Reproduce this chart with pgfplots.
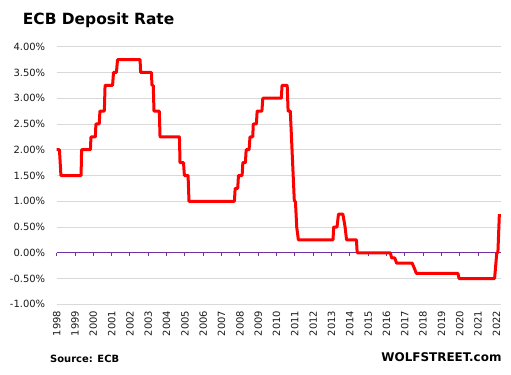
\documentclass[border=0pt]{standalone}
\usepackage{pgfplots}
\pgfplotsset{compat=1.18}
\usepackage{fontspec}
\setmainfont{DejaVu Sans}
\definecolor{zeroaxis}{HTML}{7030A0}
\definecolor{gridgray}{HTML}{D9D9D9}
\definecolor{txt}{HTML}{1A1A1A}
\begin{document}
\begin{tikzpicture}
\useasboundingbox (0,0) rectangle (511bp,375bp);
\begin{axis}[
  at={(56.7bp,70.7bp)}, anchor=south west,
  scale only axis, width=444.3bp, height=257.6bp,
  xmin=1998, xmax=2022.25, ymin=-1, ymax=4,
  axis line style={draw=none},
  major tick length=0pt,
  xtick={1998,1999,...,2022},
  xticklabel={\pgfmathprintnumber[1000 sep={},assume math mode=true,fixed,precision=0]{\tick}},
  ytick={-1,-0.5,0,0.5,1,1.5,2,2.5,3,3.5,4},
  yticklabels={-1.00\%,-0.50\%,0.00\%,0.50\%,1.00\%,1.50\%,2.00\%,2.50\%,3.00\%,3.50\%,4.00\%},
  ymajorgrids, grid style={gridgray, line width=0.8bp},
  xticklabel style={rotate=90, anchor=east, font=\fontsize{10}{12}\selectfont, text=txt},
  yticklabel style={anchor=east, font=\fontsize{10}{12}\selectfont, text=txt},
  xticklabel shift=3bp,
  yticklabel shift=8bp,
  clip=false,
]
\addplot[zeroaxis, line width=1.2bp, no marks] coordinates {(1998,0)(2022.25,0)};
\addplot[zeroaxis, line width=1bp, ycomb, no marks] coordinates {
(1998,-0.065)(1999,-0.065)(2000,-0.065)(2001,-0.065)(2002,-0.065)(2003,-0.065)(2004,-0.065)(2005,-0.065)(2006,-0.065)(2007,-0.065)(2008,-0.065)(2009,-0.065)(2010,-0.065)(2011,-0.065)(2012,-0.065)(2013,-0.065)(2014,-0.065)(2015,-0.065)(2016,-0.065)(2017,-0.065)(2018,-0.065)(2019,-0.065)(2020,-0.065)(2021,-0.065)(2022,-0.065)};
\addplot[red, line width=3bp, line join=round, no marks] coordinates {
(1998.00,2.00)(1998.15,2.00)(1998.23,1.50)(1999.33,1.50)(1999.36,2.00)(1999.84,2.00)(1999.87,2.25)(2000.11,2.25)(2000.14,2.50)(2000.32,2.50)(2000.36,2.75)(2000.60,2.75)(2000.64,3.25)(2001.05,3.25)(2001.10,3.50)(2001.26,3.50)(2001.32,3.75)(2002.55,3.75)(2002.58,3.50)(2003.17,3.50)(2003.20,3.25)(2003.27,3.25)(2003.31,2.75)(2003.60,2.75)(2003.64,2.25)(2004.70,2.25)(2004.73,1.75)(2004.92,1.75)(2004.97,1.50)(2005.17,1.50)(2005.22,1.00)(2007.70,1.00)(2007.74,1.25)(2007.88,1.25)(2007.92,1.50)(2008.12,1.50)(2008.16,1.75)(2008.30,1.75)(2008.34,2.00)(2008.50,2.00)(2008.55,2.25)(2008.70,2.25)(2008.73,2.50)(2008.90,2.50)(2008.94,2.75)(2009.20,2.75)(2009.25,3.00)(2010.26,3.00)(2010.30,3.25)(2010.58,3.25)(2010.63,2.75)(2010.75,2.75)(2010.97,1.00)(2011.03,1.00)(2011.10,0.50)(2011.19,0.25)(2013.08,0.25)(2013.12,0.50)(2013.30,0.50)(2013.38,0.75)(2013.62,0.75)(2013.74,0.50)(2013.82,0.25)(2014.36,0.25)(2014.40,0.00)(2016.21,0.00)(2016.28,-0.10)(2016.45,-0.10)(2016.55,-0.20)(2017.40,-0.20)(2017.52,-0.30)(2017.63,-0.40)(2019.90,-0.40)(2019.96,-0.50)(2021.90,-0.50)(2022.02,0.00)(2022.08,0.00)(2022.16,0.75)};
\end{axis}
\node[anchor=base west, inner sep=0pt, font=\bfseries\fontsize{15.5}{18}\selectfont, text=black] at (22.7bp,350bp) {ECB Deposit Rate};
\node[anchor=base west, inner sep=0pt, font=\bfseries\fontsize{10}{12}\selectfont, text=black] at (50bp,13bp) {Source: ECB};
\node[anchor=base east, inner sep=0pt, font=\bfseries\fontsize{12}{14}\selectfont, text=black] at (501.7bp,13.3bp) {WOLFSTREET.com};
\end{tikzpicture}
\end{document}
